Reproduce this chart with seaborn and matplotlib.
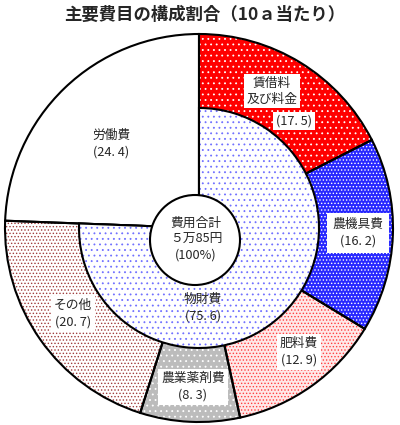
import matplotlib.pyplot as plt
import matplotlib.patches as mpatches
import seaborn as sns

# data (%)
outer_labels = ['賃借料\n及び料金', '農機具費', '肥料費', '農業薬剤費', 'その他', '労働費']
outer_values = [17.5, 16.2, 12.9, 8.3, 20.7, 24.4]
inner_labels = ['物財費', '労働費']
inner_values = [75.6, 24.4]
center_text = '費用合計\n５万85円\n(100%)'
title = '主要費目の構成割合（10ａ当たり）'

sns.set_style('white')
plt.rcParams['font.family'] = ['Noto Sans CJK JP', 'DejaVu Sans']
plt.rcParams['hatch.linewidth'] = 0.6

fig = plt.figure(figsize=(4, 4.25), dpi=100)
ax = fig.add_axes([0, 0, 1, 1])

# pixel -> data helper (circle centre / radius in pixels)
R = 194.0
CX, CY = 199.0, 228.0


def pos(px, py):
    return ((px - CX) / R, (CY - py) / R)


def fmt(v):
    return '(' + f'{v:.1f}'.replace('.', '. ') + ')'


outer_face = ['#ff0000', '#2828ff', '#ffe8e8', '#bcbcbc', 'white', 'white']
outer_hatch = ['...', '.....', '.....', '...', '.....', '']
outer_hcol = ['white', 'white', '#ff4040', 'white', '#a03c3c', 'white']

kw = dict(startangle=90, counterclock=False, radius=1.0)

# outer ring: fill, hatch, edges
ax.pie(outer_values, colors=outer_face, wedgeprops=dict(linewidth=0), **kw)
hw, _ = ax.pie(outer_values, wedgeprops=dict(fill=False, linewidth=0), **kw)
for w, h, c in zip(hw, outer_hatch, outer_hcol):
    w.set_hatch(h)
    w.set_edgecolor(c)
ax.pie(outer_values, wedgeprops=dict(fill=False, edgecolor='black', linewidth=1.5), **kw)

# inner ring (物財費 only, 労働費 stays as part of the white outer wedge)
kw_in = dict(startangle=90, counterclock=False, radius=120 / R)
fw, _ = ax.pie(inner_values, colors=['white', 'white'], wedgeprops=dict(linewidth=0), **kw_in)
fw[1].set_visible(False)
iw, _ = ax.pie(inner_values, wedgeprops=dict(fill=False, linewidth=0), **kw_in)
iw[0].set_hatch('...')
iw[0].set_edgecolor('#7070ff')
iw[1].set_visible(False)
ew, _ = ax.pie(inner_values, wedgeprops=dict(fill=False, edgecolor='black', linewidth=1.5), **kw_in)
ew[1].set_visible(False)

# centre circle
ax.add_patch(mpatches.Circle(pos(195, 240), 45 / R, facecolor='white',
                             edgecolor='black', linewidth=1.5, zorder=5))

box = dict(facecolor='white', edgecolor='none', pad=2)
fs = 9.2

ax.text(*pos(272, 91), outer_labels[0], ha='center', va='center', fontsize=fs,
        bbox=box, linespacing=1.3, zorder=6)
ax.text(*pos(294, 121), fmt(outer_values[0]), ha='center', va='center', fontsize=fs,
        bbox=box, zorder=6)
ax.text(*pos(358, 233), outer_labels[1] + '\n' + fmt(outer_values[1]), ha='center',
        va='center', fontsize=fs, bbox=dict(facecolor='white', edgecolor='none', pad=4),
        linespacing=1.35, zorder=6)
ax.text(*pos(299, 352), outer_labels[2] + '\n' + fmt(outer_values[2]), ha='center',
        va='center', fontsize=fs, bbox=box, linespacing=1.35, zorder=6)
ax.text(*pos(193, 387), outer_labels[3] + '\n' + fmt(outer_values[3]), ha='center',
        va='center', fontsize=fs, bbox=box, linespacing=1.35, zorder=6)
ax.text(*pos(73, 314), outer_labels[4] + '\n' + fmt(outer_values[4]), ha='center',
        va='center', fontsize=fs, bbox=box, linespacing=1.35, zorder=6)
ax.text(*pos(111, 144), outer_labels[5] + '\n' + fmt(outer_values[5]), ha='center',
        va='center', fontsize=fs, linespacing=1.35, zorder=6)
ax.text(*pos(203, 308), inner_labels[0] + '\n' + fmt(inner_values[0]), ha='center',
        va='center', fontsize=fs, linespacing=1.35, zorder=6)
ax.text(*pos(196, 239), center_text, ha='center', va='center', fontsize=fs,
        linespacing=1.3, zorder=6)

fig.text(205 / 400, 1 - 15 / 425, title, ha='center', va='center',
         fontsize=12.5, fontweight='bold')

ax.set_aspect('auto')
ax.set_xlim(-CX / R, (400 - CX) / R)
ax.set_ylim((CY - 425) / R, CY / R)
ax.axis('off')

fig.savefig('out.png', dpi=100)
